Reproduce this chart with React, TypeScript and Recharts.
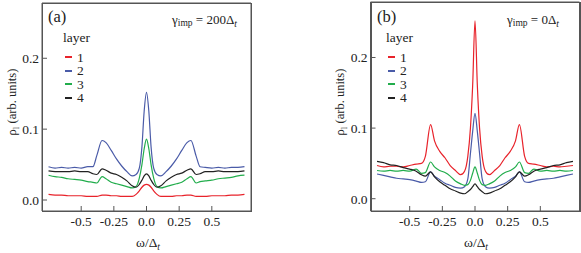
import React from "react";
import { LineChart, Line, XAxis, YAxis } from "recharts";

// energy grid (ω/Δt)
const omega = [
  -0.75, -0.7, -0.65, -0.6, -0.55, -0.5, -0.45, -0.41, -0.38, -0.34, -0.31,
  -0.27, -0.23, -0.19, -0.15, -0.11, -0.08, -0.055, -0.035, -0.018, 0,
  0.018, 0.035, 0.055, 0.08, 0.11, 0.15, 0.19, 0.23, 0.27, 0.31, 0.34, 0.38,
  0.41, 0.45, 0.5, 0.55, 0.6, 0.65, 0.7, 0.75,
];

// panel (a), gamma_imp = 200
const aLayer1 = [
  0.008, 0.007, 0.007, 0.006, 0.006, 0.006, 0.005, 0.005, 0.005, 0.007, 0.007,
  0.006, 0.006, 0.005, 0.005, 0.005, 0.008, 0.013, 0.018, 0.021, 0.022,
  0.021, 0.018, 0.013, 0.008, 0.005, 0.005, 0.005, 0.006, 0.006, 0.007, 0.007,
  0.005, 0.005, 0.005, 0.006, 0.006, 0.006, 0.007, 0.007, 0.008,
];
const aLayer2 = [
  0.047, 0.045, 0.046, 0.045, 0.046, 0.045, 0.047, 0.047, 0.063, 0.084, 0.081,
  0.07, 0.058, 0.048, 0.04, 0.034, 0.036, 0.045, 0.075, 0.125, 0.152,
  0.125, 0.075, 0.045, 0.036, 0.034, 0.04, 0.048, 0.058, 0.07, 0.081, 0.084,
  0.062, 0.047, 0.046, 0.045, 0.046, 0.045, 0.046, 0.046, 0.047,
];
const aLayer3 = [
  0.035, 0.033, 0.032, 0.03, 0.029, 0.028, 0.026, 0.025, 0.024, 0.033, 0.03,
  0.025, 0.023, 0.021, 0.019, 0.017, 0.019, 0.031, 0.05, 0.072, 0.086,
  0.072, 0.05, 0.031, 0.019, 0.017, 0.019, 0.021, 0.023, 0.025, 0.03, 0.033,
  0.024, 0.026, 0.027, 0.028, 0.03, 0.031, 0.032, 0.034, 0.035,
];
const aLayer4 = [
  0.041, 0.04, 0.04, 0.04, 0.041, 0.04, 0.04, 0.037, 0.036, 0.044, 0.042,
  0.038, 0.036, 0.032, 0.027, 0.02, 0.018, 0.022, 0.028, 0.034, 0.037,
  0.034, 0.028, 0.022, 0.018, 0.02, 0.027, 0.032, 0.036, 0.038, 0.042, 0.044,
  0.036, 0.037, 0.04, 0.04, 0.041, 0.04, 0.04, 0.04, 0.041,
];

// panel (b), gamma_imp = 0
const bLayer1 = [
  0.047, 0.045, 0.046, 0.046, 0.045, 0.047, 0.049, 0.05, 0.06, 0.105, 0.082,
  0.067, 0.058, 0.047, 0.04, 0.034, 0.039, 0.06, 0.1, 0.16, 0.252,
  0.16, 0.1, 0.06, 0.039, 0.034, 0.04, 0.047, 0.058, 0.067, 0.082, 0.105,
  0.06, 0.05, 0.049, 0.047, 0.045, 0.046, 0.045, 0.046, 0.047,
];
const bLayer2 = [
  0.035, 0.033, 0.031, 0.029, 0.028, 0.027, 0.025, 0.023, 0.024, 0.038, 0.032,
  0.027, 0.022, 0.019, 0.016, 0.015, 0.017, 0.028, 0.064, 0.095, 0.121,
  0.095, 0.064, 0.028, 0.017, 0.015, 0.016, 0.019, 0.022, 0.027, 0.032, 0.038,
  0.024, 0.023, 0.025, 0.027, 0.028, 0.029, 0.031, 0.033, 0.035,
];
const bLayer3 = [
  0.04, 0.039, 0.04, 0.039, 0.04, 0.039, 0.042, 0.036, 0.037, 0.052, 0.045,
  0.04, 0.037, 0.032, 0.025, 0.021, 0.019, 0.02, 0.026, 0.036, 0.045,
  0.036, 0.026, 0.02, 0.019, 0.021, 0.025, 0.032, 0.037, 0.04, 0.045, 0.052,
  0.037, 0.036, 0.042, 0.039, 0.04, 0.039, 0.04, 0.039, 0.04,
];
const bLayer4 = [
  0.053, 0.051, 0.048, 0.047, 0.044, 0.042, 0.039, 0.034, 0.032, 0.038, 0.031,
  0.024, 0.019, 0.014, 0.011, 0.008, 0.007, 0.01, 0.013, 0.017, 0.021,
  0.017, 0.013, 0.01, 0.007, 0.008, 0.011, 0.014, 0.019, 0.024, 0.031, 0.038,
  0.032, 0.034, 0.039, 0.042, 0.044, 0.047, 0.048, 0.051, 0.053,
];

const layerNames = ["1", "2", "3", "4"];
const layerColors = ["#e8232b", "#4a5ba8", "#22ad4c", "#222222"];
const xTicks = [-0.5, -0.25, 0, 0.25, 0.5];
const yTicks = [0, 0.1, 0.2];

const FONT = "Liberation Serif, serif";
const FRAME = "#555";

function buildRows(series: number[][]) {
  return omega.map((w, i) => {
    const row: Record<string, number> = { w };
    series.forEach((s, k) => {
      row["l" + (k + 1)] = s[i];
    });
    return row;
  });
}

const rowsA = buildRows([aLayer1, aLayer2, aLayer3, aLayer4]);
const rowsB = buildRows([bLayer1, bLayer2, bLayer3, bLayer4]);

const fmtX = (v: number) => (v === 0 ? "0.0" : String(v));
const fmtY = (v: number) => v.toFixed(1);

const tickStyle = { fill: "#222", fontSize: 13.5, fontFamily: FONT };

interface PanelProps {
  rows: Record<string, number>[];
  left: number;
  width: number;
  axisLeft: number;
  axisRight: number;
  axisTop: number;
  yDomain: [number, number];
}

// 1px solid strip, used to draw the box around a plot
function Strip({ l, t, w, h }: { l: number; t: number; w: number; h: number }) {
  return <div style={{ position: "absolute", left: l, top: t, width: w, height: h, background: FRAME, zIndex: 10 }} />;
}

function Panel({ rows, left, width, axisLeft, axisRight, axisTop, yDomain }: PanelProps) {
  const x0 = Math.round(axisLeft);
  const x1 = Math.round(width - axisRight);
  const y0 = Math.round(axisTop);
  const y1 = 253 - 42;
  return (
    <div style={{ position: "absolute", left, top: 0, width, height: 253 }}>
      <LineChart width={width} height={253} data={rows} margin={{ top: 0, right: 0, bottom: 0, left: 0 }}>
        <XAxis
          xAxisId="b"
          dataKey="w"
          type="number"
          domain={[-0.8, 0.8]}
          ticks={xTicks}
          tickFormatter={fmtX}
          height={42}
          stroke={FRAME}
          tickSize={-5}
          tickMargin={10}
          tick={tickStyle}
        />
        <XAxis
          xAxisId="t"
          dataKey="w"
          type="number"
          orientation="top"
          domain={[-0.8, 0.8]}
          ticks={xTicks}
          height={axisTop}
          stroke={FRAME}
          tickSize={-5}
          tick={false}
        />
        <YAxis
          yAxisId="l"
          type="number"
          domain={yDomain}
          ticks={yTicks}
          tickFormatter={fmtY}
          width={axisLeft}
          stroke={FRAME}
          tickSize={-5}
          tickMargin={8}
          tick={tickStyle}
        />
        <YAxis
          yAxisId="r"
          type="number"
          orientation="right"
          domain={yDomain}
          ticks={yTicks}
          width={axisRight}
          stroke={FRAME}
          tickSize={-5}
          tick={false}
        />
        {/* invisible copy so the mirror axes (top / right) get drawn */}
        <Line xAxisId="t" yAxisId="r" dataKey="l1" stroke="none" dot={false} activeDot={false} isAnimationActive={false} />
        {layerNames.map((n, k) => (
          <Line
            key={n}
            xAxisId="b"
            yAxisId="l"
            dataKey={"l" + (k + 1)}
            name={n}
            type="monotone"
            stroke={layerColors[k]}
            strokeWidth={1.2}
            dot={false}
            isAnimationActive={false}
          />
        ))}
      </LineChart>
      {/* plot frame */}
      <Strip l={x0} t={y0} w={x1 - x0 + 1} h={1} />
      <Strip l={x0} t={y1} w={x1 - x0 + 1} h={1} />
      <Strip l={x0} t={y0} w={1} h={y1 - y0 + 1} />
      <Strip l={x1} t={y0} w={1} h={y1 - y0 + 1} />
    </div>
  );
}

const txt: React.CSSProperties = {
  position: "absolute",
  fontFamily: FONT,
  color: "#222",
  lineHeight: 1,
  whiteSpace: "nowrap",
};

function LayerLegend({ left, top }: { left: number; top: number }) {
  return (
    <div style={{ ...txt, left, top, fontSize: 13.5 }}>
      <div style={{ height: 13.5, marginBottom: 6 }}>layer</div>
      {layerNames.map((n, k) => (
        <div key={n} style={{ display: "flex", alignItems: "center", height: 13.5, marginLeft: 2 }}>
          <span style={{ display: "inline-block", width: 7, height: 1.6, background: layerColors[k], marginRight: 5 }} />
          <span>{n}</span>
        </div>
      ))}
    </div>
  );
}

function Gamma({ left, value }: { left: number; value: string }) {
  return (
    <div style={{ ...txt, left, top: 13, fontSize: 13 }}>
      γ<span style={{ fontSize: 9.5, position: "relative", top: 2 }}>imp</span> = {value}Δ
      <span style={{ fontSize: 9.5, fontStyle: "italic", position: "relative", top: 3 }}>t</span>
    </div>
  );
}

function YTitle({ cx }: { cx: number }) {
  return (
    <div
      style={{
        ...txt,
        left: cx,
        top: 102,
        fontSize: 12.5,
        transform: "translate(-50%, -50%) rotate(-90deg)",
      }}
    >
      ρ<span style={{ fontSize: 9, position: "relative", top: 3 }}>l</span> (arb. units)
    </div>
  );
}

function XTitle({ cx }: { cx: number }) {
  return (
    <div style={{ ...txt, left: cx, top: 236, fontSize: 13.5, transform: "translateX(-50%)" }}>
      ω/Δ<span style={{ fontSize: 9.5, fontStyle: "italic", position: "relative", top: 3 }}>t</span>
    </div>
  );
}

export default function App() {
  return (
    <div style={{ position: "absolute", left: 0, top: 0, width: 581, height: 253 }}>
      <Panel rows={rowsA} left={0} width={290} axisLeft={42} axisRight={39} axisTop={3} yDomain={[-0.0155, 0.278]} />
      <Panel rows={rowsB} left={329} width={252} axisLeft={41.5} axisRight={1.5} axisTop={2} yDomain={[-0.0174, 0.2786]} />

      <div style={{ ...txt, left: 48, top: 9, fontSize: 16.5 }}>(a)</div>
      <div style={{ ...txt, left: 377, top: 9, fontSize: 16.5 }}>(b)</div>
      <Gamma left={172} value="200" />
      <Gamma left={507} value="0" />
      <LayerLegend left={63} top={31} />
      <LayerLegend left={386} top={31} />
      <YTitle cx={12} />
      <YTitle cx={340} />
      <XTitle cx={148} />
      <XTitle cx={476} />
    </div>
  );
}
